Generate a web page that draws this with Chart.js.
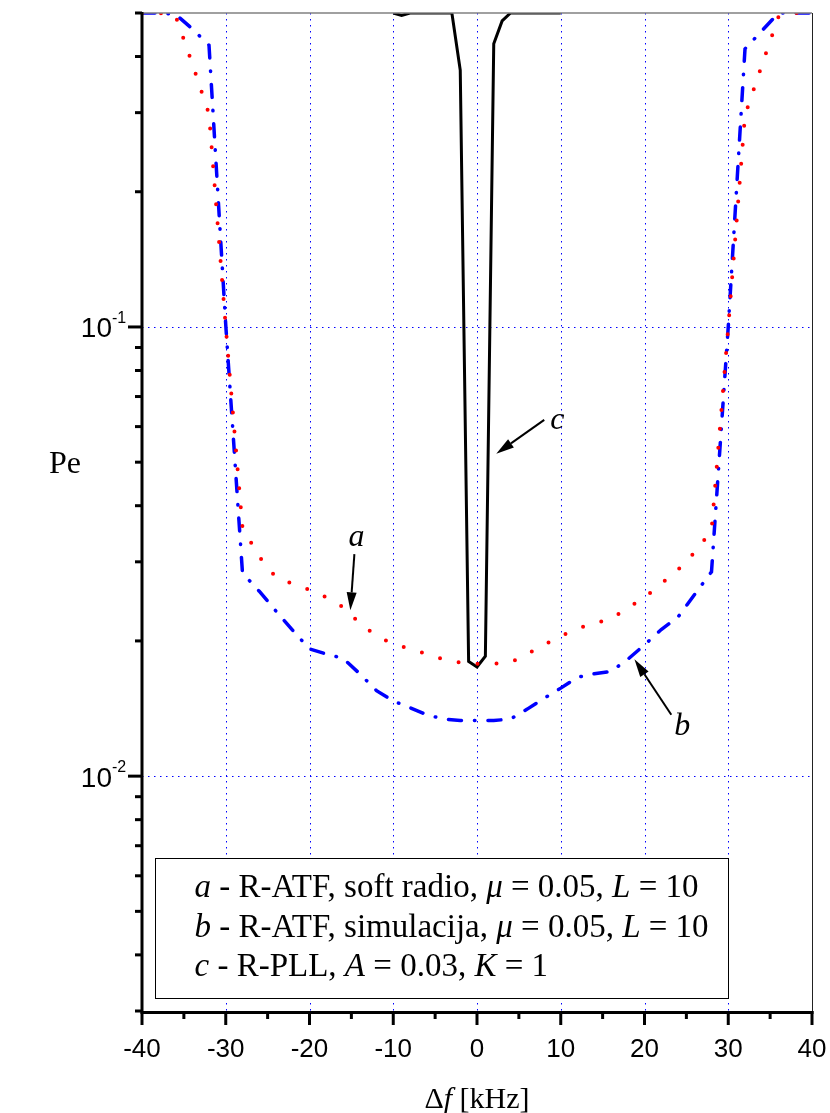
<!DOCTYPE html>
<html>
<head>
<meta charset="utf-8">
<script src="https://cdn.jsdelivr.net/npm/chart.js@4.4.1/dist/chart.umd.min.js"></script>
<style>
  html, body { margin: 0; padding: 0; background: #fff; }
</style>
</head>
<body>
<canvas id="pe" width="830" height="1113"></canvas>
<script>
'use strict';

// frequency offset [kHz] for curves a and b
const freqAB = [-40, -38, -36, -34, -32, -30, -28, -26, -24, -22, -20, -18, -16, -14, -12, -10, -8, -6, -4, -2,
    0, 2, 4, 6, 8, 10, 12, 14, 16, 18, 20, 22, 24, 26, 28, 30, 32, 34, 36, 38, 40];

// a - R-ATF, soft radio
const peSoftRadio = [0.5, 0.5, 0.493, 0.386, 0.298, 0.1, 0.0357, 0.0308, 0.0277, 0.0268, 0.0260, 0.0250, 0.0238, 0.0219, 0.0205, 0.0197, 0.0192, 0.0187, 0.0182, 0.0179,
    0.0178, 0.0178, 0.0179, 0.0187, 0.0196, 0.0205, 0.0213, 0.0219, 0.0224, 0.0237, 0.0250, 0.0268, 0.0288, 0.0315, 0.0352, 0.1, 0.296, 0.382, 0.49, 0.5, 0.5];

// b - R-ATF, simulacija
const peSimulation = [0.5, 0.5, 0.497, 0.461, 0.424, 0.101, 0.0283, 0.0258, 0.0233, 0.0211, 0.0192, 0.0187, 0.0183, 0.0169, 0.0155, 0.0147, 0.0142, 0.0137, 0.0134, 0.0133,
    0.0133, 0.0133, 0.0134, 0.0141, 0.0149, 0.0157, 0.0166, 0.0169, 0.0171, 0.0182, 0.0196, 0.0212, 0.0226, 0.0254, 0.0285, 0.1, 0.416, 0.456, 0.5, 0.5, 0.5];

// c - R-PLL
const freqPLL = [-10, -9, -8, -6, -4, -3, -2, -1, 0, 1, 2, 3, 4, 6, 8, 10];
const pePLL = [0.5, 0.494, 0.5, 0.5, 0.5, 0.5, 0.373, 0.0180, 0.0175, 0.0185, 0.427, 0.48, 0.5, 0.5, 0.5, 0.5];

const xTickValues = [-40, -30, -20, -10, 0, 10, 20, 30, 40];
const xMinorValues = [-35, -25, -15, -5, 5, 15, 25, 35];
const xGridValues = [-30, -20, -10, 0, 10, 20, 30];
const yDecades = [0.1, 0.01];
const yDecadeExponents = ['-1', '-2'];
const yMinorValues = [0.5, 0.4, 0.3, 0.2, 0.09, 0.08, 0.07, 0.06, 0.05, 0.04, 0.03, 0.02,
    0.009, 0.008, 0.007, 0.006, 0.005, 0.004, 0.003];

const legendRows = [
    [['a', true], [' - R-ATF, soft radio, ', false], ['\u03bc', true], [' = 0.05, ', false], ['L', true], [' = 10', false]],
    [['b', true], [' - R-ATF, simulacija, ', false], ['\u03bc', true], [' = 0.05, ', false], ['L', true], [' = 10', false]],
    [['c', true], [' - R-PLL, ', false], ['A', true], [' = 0.03, ', false], ['K', true], [' = 1', false]]
];

// curve labels: text, label position, arrow tail, arrow tip (data coordinates)
const curveNotes = [
    { text: 'a', at: [-14.4, 0.0339], from: [-14.64, 0.0312], to: [-15.12, 0.0234] },
    { text: 'c', at: [9.6, 0.0618], from: [8.03, 0.0621], to: [2.3, 0.0522] },
    { text: 'b', at: [24.5, 0.0129], from: [23.2, 0.0137], to: [18.8, 0.0182] }
];

const SERIF = '"Liberation Serif", "Times New Roman", serif';
const SANS = '"Liberation Sans", Arial, sans-serif';

function toPoints(xs, ys) {
    return xs.map((x, i) => ({ x: x, y: ys[i] }));
}

function arrow(ctx, x0, y0, x1, y1) {
    const ang = Math.atan2(y1 - y0, x1 - x0);
    const len = 18, half = 5;
    const bx = x1 - len * Math.cos(ang), by = y1 - len * Math.sin(ang);
    ctx.beginPath();
    ctx.moveTo(x0, y0);
    ctx.lineTo(bx, by);
    ctx.stroke();
    ctx.beginPath();
    ctx.moveTo(x1, y1);
    ctx.lineTo(bx + half * Math.sin(ang), by - half * Math.cos(ang));
    ctx.lineTo(bx - half * Math.sin(ang), by + half * Math.cos(ang));
    ctx.closePath();
    ctx.fill();
}

const decor = {
    id: 'decor',
    beforeDatasetsDraw(chart) {
        const { ctx, chartArea: a, scales: { x, y } } = chart;
        ctx.save();
        ctx.strokeStyle = 'rgb(0, 0, 255)';
        ctx.lineWidth = 1;
        ctx.setLineDash([1.5, 4.5]);
        xGridValues.forEach(v => {
            const px = Math.round(x.getPixelForValue(v)) + 0.5;
            ctx.beginPath();
            ctx.moveTo(px, a.top);
            ctx.lineTo(px, a.bottom);
            ctx.stroke();
        });
        yDecades.forEach(v => {
            const py = Math.round(y.getPixelForValue(v)) + 0.5;
            ctx.beginPath();
            ctx.moveTo(a.left, py);
            ctx.lineTo(a.right, py);
            ctx.stroke();
        });
        ctx.restore();
    },
    afterDatasetsDraw(chart) {
        const { ctx, chartArea: a, scales: { x, y } } = chart;
        ctx.save();

        // legend box
        const bx0 = x.getPixelForValue(-38.5), bx1 = x.getPixelForValue(29.9);
        const by0 = y.getPixelForValue(0.00657), by1 = y.getPixelForValue(0.0032);
        ctx.fillStyle = '#fff';
        ctx.fillRect(bx0, by0, bx1 - bx0, by1 - by0);
        ctx.strokeStyle = '#000';
        ctx.lineWidth = 1;
        ctx.strokeRect(Math.round(bx0) + 0.5, Math.round(by0) + 0.5, Math.round(bx1 - bx0), Math.round(by1 - by0));
        ctx.fillStyle = '#000';
        ctx.textAlign = 'left';
        ctx.textBaseline = 'alphabetic';
        legendRows.forEach((row, i) => {
            let tx = bx0 + 40;
            const ty = by0 + 39 + i * 39.5;
            row.forEach(([txt, italic]) => {
                ctx.font = (italic ? 'italic ' : '') + '33px ' + SERIF;
                ctx.fillText(txt, tx, ty);
                tx += ctx.measureText(txt).width;
            });
        });

        // frame
        ctx.lineCap = 'butt';
        ctx.strokeStyle = 'rgb(128, 128, 128)';
        ctx.lineWidth = 1.5;
        ctx.beginPath();
        ctx.moveTo(a.left, a.top);
        ctx.lineTo(a.right, a.top);
        ctx.stroke();
        ctx.strokeStyle = '#222';
        ctx.lineWidth = 1;
        ctx.beginPath();
        ctx.moveTo(a.right + 0.5, a.top);
        ctx.lineTo(a.right + 0.5, a.bottom);
        ctx.stroke();
        ctx.strokeStyle = '#000';
        ctx.lineWidth = 3;
        ctx.beginPath();
        ctx.moveTo(a.left, a.top - 1);
        ctx.lineTo(a.left, a.bottom + 1.5);
        ctx.lineTo(a.right + 1.5, a.bottom + 1.5);
        ctx.stroke();

        // y ticks and labels
        yDecades.forEach((v, i) => {
            const py = y.getPixelForValue(v);
            ctx.beginPath();
            ctx.moveTo(a.left - 14, py);
            ctx.lineTo(a.left, py);
            ctx.stroke();
            ctx.font = '28px ' + SANS;
            ctx.textAlign = 'right';
            ctx.fillText('10', a.left - 30, py + 10.5);
            ctx.font = '16px ' + SANS;
            ctx.textAlign = 'left';
            ctx.fillText(yDecadeExponents[i], a.left - 30, py - 4);
        });
        yMinorValues.forEach(v => {
            const py = y.getPixelForValue(v);
            ctx.beginPath();
            ctx.moveTo(a.left - 7, py);
            ctx.lineTo(a.left, py);
            ctx.stroke();
        });

        // x ticks and labels
        ctx.font = '26px ' + SANS;
        ctx.textAlign = 'center';
        xTickValues.forEach(v => {
            const px = x.getPixelForValue(v);
            ctx.beginPath();
            ctx.moveTo(px, a.bottom);
            ctx.lineTo(px, a.bottom + 14);
            ctx.stroke();
            ctx.fillText(String(v), px, a.bottom + 46);
        });
        xMinorValues.forEach(v => {
            const px = x.getPixelForValue(v);
            ctx.beginPath();
            ctx.moveTo(px, a.bottom);
            ctx.lineTo(px, a.bottom + 8);
            ctx.stroke();
        });

        // axis titles
        ctx.font = '32px ' + SERIF;
        ctx.textAlign = 'center';
        ctx.fillText('Pe', 65, 473);
        const parts = [['\u0394', ''], ['f', 'italic '], [' [kHz]', '']];
        let w = 0;
        parts.forEach(([t, s]) => { ctx.font = s + '30px ' + SERIF; w += ctx.measureText(t).width; });
        let tx = (a.left + a.right) / 2 - w / 2;
        ctx.textAlign = 'left';
        parts.forEach(([t, s]) => {
            ctx.font = s + '30px ' + SERIF;
            ctx.fillText(t, tx, 1108);
            tx += ctx.measureText(t).width;
        });

        // curve labels with arrows
        ctx.lineWidth = 2;
        curveNotes.forEach(n => {
            ctx.font = 'italic 32px ' + SERIF;
            ctx.textAlign = 'center';
            ctx.textBaseline = 'middle';
            ctx.fillText(n.text, x.getPixelForValue(n.at[0]), y.getPixelForValue(n.at[1]));
            arrow(ctx, x.getPixelForValue(n.from[0]), y.getPixelForValue(n.from[1]),
                x.getPixelForValue(n.to[0]), y.getPixelForValue(n.to[1]));
        });

        ctx.restore();
    }
};

const config = {
    type: 'line',
    data: {
        datasets: [
            {
                label: 'a',
                data: toPoints(freqAB, peSoftRadio),
                borderColor: 'rgb(255, 0, 0)',
                borderWidth: 4,
                borderDash: [0, 19],
                borderCapStyle: 'round',
            },
            {
                label: 'b',
                data: toPoints(freqAB, peSimulation),
                borderColor: 'rgb(0, 0, 255)',
                borderWidth: 3.5,
                borderDash: [13, 13, 0.5, 13],
                borderCapStyle: 'round',
            },
            {
                label: 'c',
                data: toPoints(freqPLL, pePLL),
                borderColor: 'rgb(0, 0, 0)',
                borderWidth: 3,
                borderJoinStyle: 'miter',
            }
        ]
    },
    options: {
        responsive: false,
        animation: false,
        devicePixelRatio: 1,
        layout: { padding: { left: 0, top: 13, right: 18, bottom: 0 } },
        elements: { point: { radius: 0 }, line: { tension: 0 } },
        plugins: { legend: { display: false }, tooltip: { enabled: false } },
        scales: {
            x: {
                type: 'linear', min: -40, max: 40,
                grid: { display: false }, border: { display: false }, ticks: { display: false },
                afterFit: s => { s.height = 102; }
            },
            y: {
                type: 'logarithmic', min: 0.003, max: 0.5,
                grid: { display: false }, border: { display: false }, ticks: { display: false },
                afterFit: s => { s.width = 142; }
            }
        }
    },
    plugins: [decor]
};

new Chart(document.getElementById('pe'), config);
</script>
</body>
</html>
